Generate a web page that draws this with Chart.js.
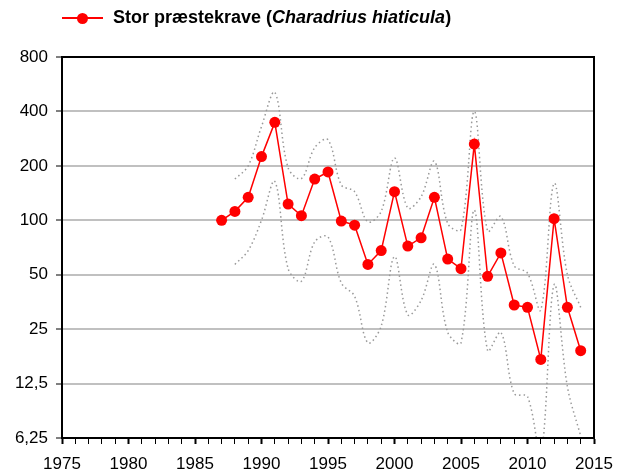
<!DOCTYPE html>
<html>
<head>
<meta charset="utf-8">
<script src="https://cdn.jsdelivr.net/npm/chart.js@4/dist/chart.umd.min.js"></script>
<style>
    body { margin: 0; background: #fff; }
    #wrap { position: relative; width: 623px; height: 475px; }
    #legend {
        position: absolute; left: 62px; top: 7px;
        font: bold 18px "Liberation Sans", Arial, sans-serif; color: #000;
        display: flex; align-items: center;
    }
    #legend .mark { position: relative; width: 41px; height: 20px; margin-right: 10px; }
    #legend .mark .ln { position: absolute; left: 0; right: 0; top: 9px; height: 2px; background: #ff0000; }
    #legend .mark .dot { position: absolute; left: 15px; top: 5px; width: 11px; height: 11px; border-radius: 50%; background: #ff0000; }
</style>
</head>
<body>
<div id="wrap">
    <canvas id="chart" width="623" height="475"></canvas>
    <div id="legend"><span class="mark"><span class="ln"></span><span class="dot"></span></span><span>Stor præstekrave (<i>Charadrius hiaticula</i>)</span></div>
</div>
<script>
// index values
const years = [1987, 1988, 1989, 1990, 1991, 1992, 1993, 1994, 1995, 1996, 1997, 1998, 1999, 2000,
    2001, 2002, 2003, 2004, 2005, 2006, 2007, 2008, 2009, 2010, 2011, 2012, 2013, 2014];
const index = [100, 112, 134, 225, 348, 123, 106, 169, 185, 99, 94, 57, 68, 144,
    72, 80, 134, 61, 54, 264, 49, 66, 34, 33, 17, 102, 33, 19];

// confidence limits, from 1988
const ciYears = years.slice(1);
const upper = [169, 200, 330, 510, 195, 170, 252, 279, 157, 144, 98, 112, 221,
    117, 135, 212, 96, 89, 400, 87, 105, 56, 51, 32, 160, 50, 33];
const lower = [57, 68, 100, 164, 54, 46, 76, 81, 45, 38, 21, 26, 63,
    30, 36, 57, 24, 21, 114, 19, 24, 11, 10.6, 5, 44, 12, 6.4];

const yTicks = [6.25, 12.5, 25, 50, 100, 200, 400, 800];

const toXY = (xs, ys) => xs.map((x, i) => ({ x, y: ys[i] }));

// black frame round the plot area
const frame = {
    id: 'frame',
    afterDraw(chart) {
        const { ctx, chartArea: a } = chart;
        ctx.save();
        ctx.strokeStyle = '#000';
        ctx.lineWidth = 2;
        ctx.strokeRect(a.left, a.top, a.right - a.left, a.bottom - a.top);
        ctx.restore();
    }
};

const font = { family: '"Liberation Sans", Arial, sans-serif', size: 17 };

new Chart(document.getElementById('chart'), {
    type: 'line',
    data: {
        datasets: [
            {
                data: toXY(years, index),
                borderColor: '#ff0000',
                backgroundColor: '#ff0000',
                borderWidth: 1.5,
                pointRadius: 5.5,
                pointBorderWidth: 0,
                tension: 0
            },
            {
                data: toXY(ciYears, upper),
                borderColor: '#999999',
                borderWidth: 1.5,
                borderDash: [1.5, 3],
                pointRadius: 0,
                tension: 0.35
            },
            {
                data: toXY(ciYears, lower),
                borderColor: '#999999',
                borderWidth: 1.5,
                borderDash: [1.5, 3],
                pointRadius: 0,
                tension: 0.35
            }
        ]
    },
    options: {
        responsive: false,
        animation: false,
        layout: { padding: { top: 57, right: 29, left: 0, bottom: 0 } },
        plugins: { legend: { display: false }, tooltip: { enabled: false } },
        scales: {
            x: {
                type: 'linear',
                min: 1975,
                max: 2015,
                afterFit(scale) { scale.height = 37; },
                border: { color: '#000', width: 2 },
                grid: {
                    drawOnChartArea: false,
                    tickLength: 6,
                    tickColor: '#000',
                    tickWidth: (c) => (c.tick && c.tick.value % 5 === 0 ? 2 : 1)
                },
                ticks: {
                    stepSize: 1,
                    autoSkip: false,
                    maxRotation: 0,
                    padding: 10,
                    color: '#000',
                    font,
                    callback: (v) => (v % 5 === 0 ? String(v) : '')
                }
            },
            y: {
                type: 'logarithmic',
                min: 6.25,
                max: 800,
                afterFit(scale) { scale.width = 62; },
                afterBuildTicks(scale) { scale.ticks = yTicks.map(v => ({ value: v })); },
                border: { color: '#000', width: 2 },
                grid: {
                    color: '#c0c0c0',
                    lineWidth: 2,
                    tickColor: '#000',
                    tickLength: 6,
                    tickWidth: 1
                },
                ticks: {
                    padding: 8,
                    color: '#000',
                    font,
                    callback: (v) => String(v).replace('.', ',')
                }
            }
        }
    },
    plugins: [frame]
});
</script>
</body>
</html>
